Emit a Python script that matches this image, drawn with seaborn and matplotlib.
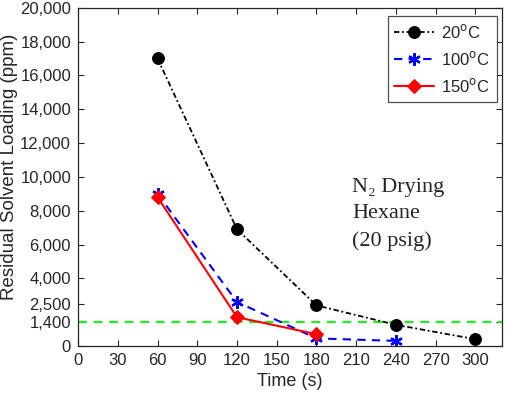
import matplotlib
matplotlib.use("Agg")
import matplotlib.pyplot as plt
import seaborn as sns
import pandas as pd
from matplotlib.ticker import FuncFormatter

sns.set_theme(style="white")
plt.rcParams['font.family'] = ['Liberation Sans', 'DejaVu Sans']

time_20 = [60, 120, 180, 240, 300]
load_20 = [17000, 6900, 2400, 1250, 400]
time_100 = [60, 120, 180, 240]
load_100 = [9000, 2600, 450, 300]
time_150 = [60, 120, 180]
load_150 = [8800, 1700, 700]
limit = 1400
labels = ["20$^{\\rm o}$C", "100$^{\\rm o}$C", "150$^{\\rm o}$C"]
yticks = [0, 1400, 2500, 4000, 6000, 8000, 10000, 12000, 14000, 16000, 18000, 20000]
xticks = list(range(0, 301, 30))

fig = plt.figure(figsize=(5.05, 3.97), dpi=100)
ax = fig.add_axes([0.1545, 0.1285, 0.8395, 0.852])

sns.lineplot(x=time_20, y=load_20, ax=ax, color='black', linestyle=(0, (3, 1.5, 1, 1.5)),
             marker='o', markersize=8.5, markeredgecolor='black', linewidth=1.3, label=labels[0])
sns.lineplot(x=time_100, y=load_100, ax=ax, color='blue', linestyle=(0, (4, 3)),
             marker=(6, 2, 0), markersize=9, markeredgecolor='blue', markerfacecolor='blue',
             markeredgewidth=1.6, linewidth=1.5, label=labels[1])
sns.lineplot(x=time_150, y=load_150, ax=ax, color='red', linestyle='-',
             marker='D', markersize=7, markeredgecolor='red', linewidth=1.5, label=labels[2])
ax.axhline(limit, color='#22ee22', linestyle=(0, (4, 3)), linewidth=1.6, zorder=1)

ax.set_xlim(0, 320)
ax.set_ylim(0, 20000)
ax.set_xticks(xticks)
ax.set_yticks(yticks)
ax.yaxis.set_major_formatter(FuncFormatter(lambda v, p: f"{int(v):,}"))
ax.tick_params(direction='in', length=4, width=0.8, top=True, right=True, bottom=True, left=True,
               labelsize=12, colors='#262626', pad=5)
for s in ax.spines.values():
    s.set_color('#262626')
    s.set_linewidth(0.9)
ax.set_xlabel("Time (s)", fontsize=13, color='#262626', labelpad=4)
ax.set_ylabel("Residual Solvent Loading (ppm)", fontsize=13.5, color='#262626')
ax.yaxis.set_label_coords(-0.142, 0.53)

leg = ax.legend(loc='upper right', fontsize=12, frameon=True, fancybox=False,
                edgecolor='#262626', handlelength=2.4, handletextpad=0.4, borderpad=0.4,
                labelspacing=0.55, borderaxespad=0.2, bbox_to_anchor=(0.995, 0.985))
leg.get_frame().set_linewidth(0.9)

ax.text(207, 5900, "N\u2082 Drying\nHexane\n(20 psig)", fontsize=16,
        family=['Liberation Serif', 'DejaVu Serif'], va='baseline', ha='left', linespacing=1.55)

fig.savefig("out.png", dpi=100)
